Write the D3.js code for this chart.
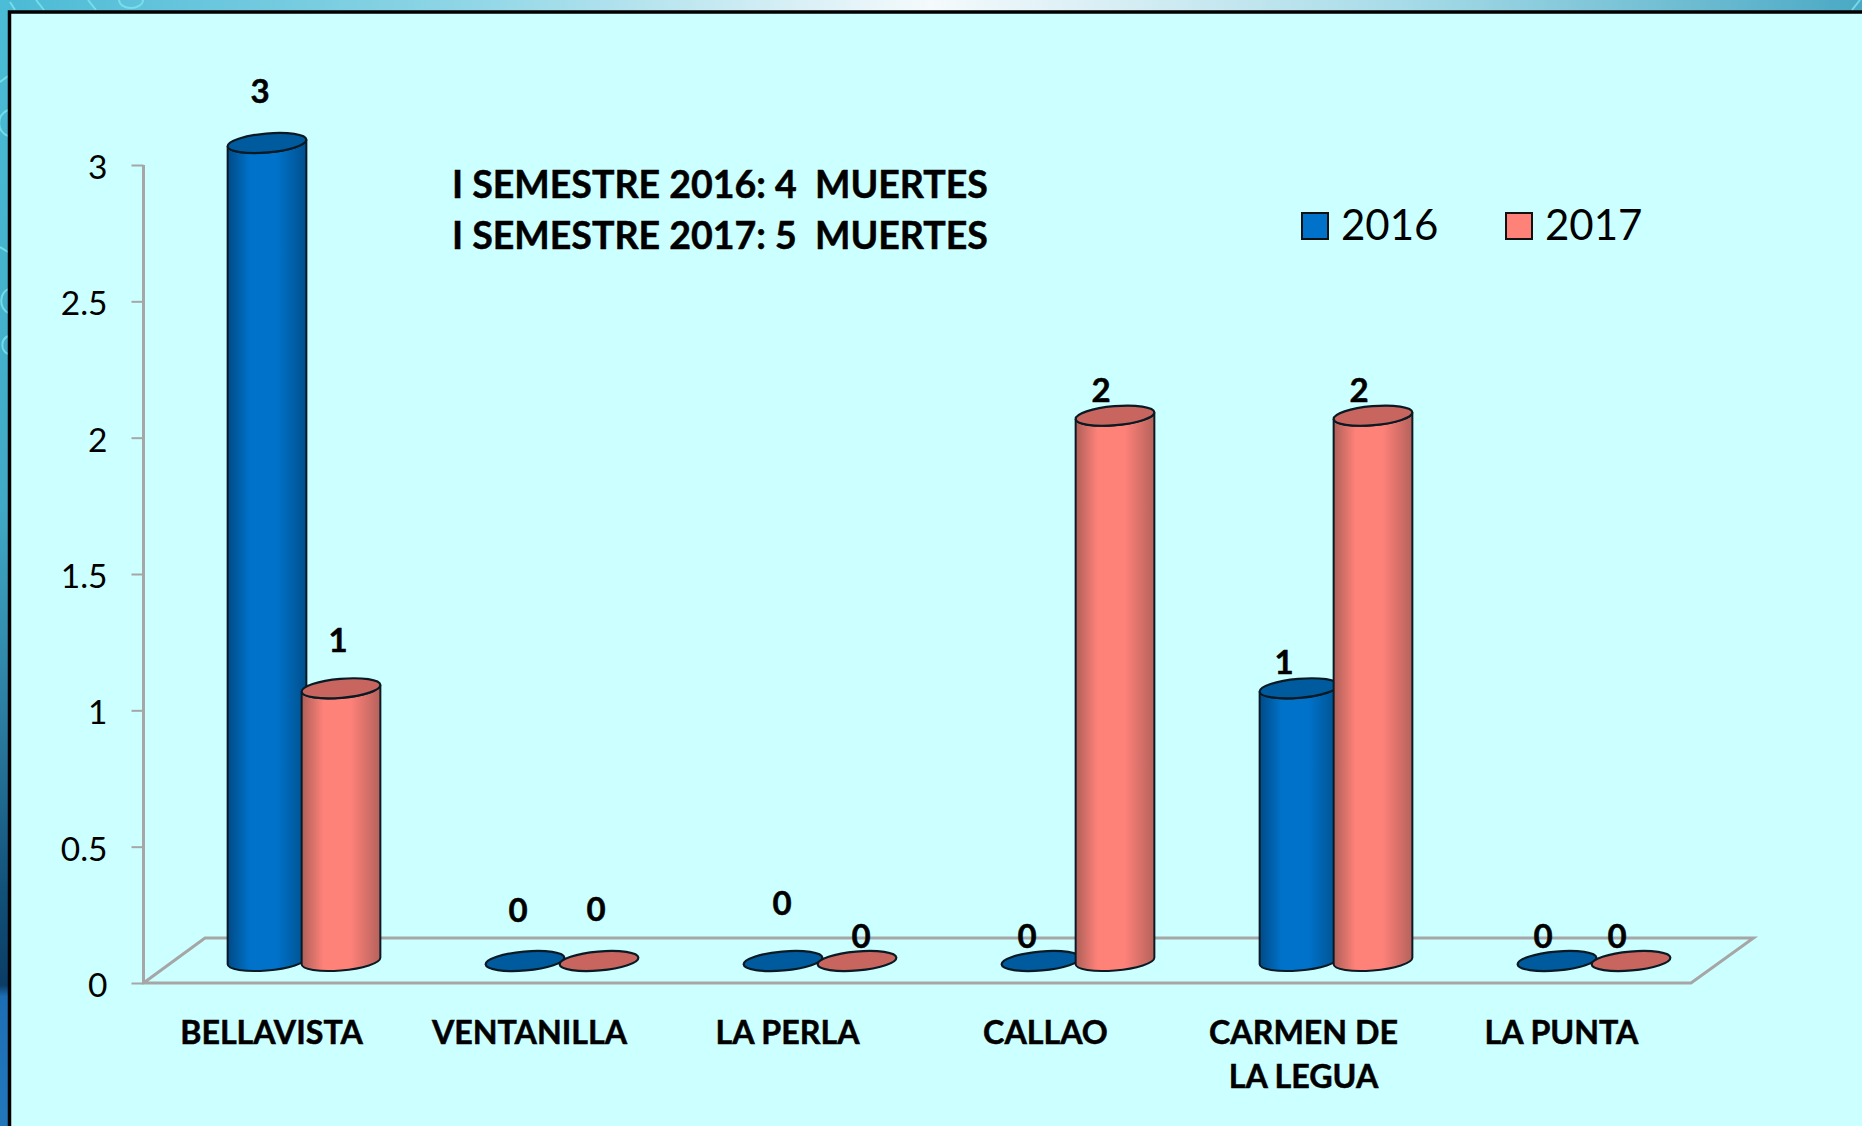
<!DOCTYPE html>
<html><head><meta charset="utf-8">
<script src="https://cdn.jsdelivr.net/npm/d3@7"></script>
<style>html,body{margin:0;padding:0;background:#ccffff}svg{display:block}text{font-family:Lato,"Open Sans",sans-serif;fill:#000}.b{stroke:#000;stroke-width:.5px}</style>
</head><body><svg id="c" width="1862" height="1126"></svg>
<script>
const categories = [["BELLAVISTA"],["VENTANILLA"],["LA PERLA"],["CALLAO"],["CARMEN DE","LA LEGUA"],["LA PUNTA"]];
const seriesNames = ["2016","2017"];
const values2016 = [3,0,0,0,1,0];
const values2017 = [1,0,0,2,2,0];
const yTicks = [0,0.5,1,1.5,2,2.5,3];
const noteLines = ["I SEMESTRE 2016: 4  MUERTES","I SEMESTRE 2017: 5  MUERTES"];
// label placement relative to each cylinder's top
const labelNudge2016 = [[-7,-52],[-7,-51],[-1,-58],[-14,-25],[-15,-26],[-14,-25]];
const labelNudge2017 = [[-3,-48],[-3,-52],[4,-25],[-14,-26],[-14,-26],[-14,-25]];

const W=1862,H=1126;
const svg=d3.select("#c");
const defs=svg.append("defs");
function hGrad(id,edgeL,mid,edgeR){
  const g=defs.append("linearGradient").attr("id",id);
  [[0,edgeL],[.28,mid],[.62,mid],[1,edgeR]].forEach(s=>g.append("stop").attr("offset",s[0]).attr("stop-color",s[1]));
}
hGrad("body0","#004a85","#0072ca","#00508c");
hGrad("body1","#ad5f58","#ff8279","#b5625c");
const topG=defs.append("linearGradient").attr("id","strip");
[[0,"#4bbad5"],[.25,"#8fd6e6"],[.5,"#f5fafc"],[.75,"#a8dce8"],[1,"#4aa9c4"]].forEach(s=>topG.append("stop").attr("offset",s[0]).attr("stop-color",s[1]));
const leftG=defs.append("linearGradient").attr("id","side").attr("x1",0).attr("x2",0).attr("y1",0).attr("y2",1);
[[0,"#4bbdd6"],[.45,"#40a9c6"],[.65,"#2a7a9e"],[.8,"#104f77"],[.875,"#0b3d66"],[.885,"#1d6fb5"],[1,"#2277bb"]].forEach(s=>leftG.append("stop").attr("offset",s[0]).attr("stop-color",s[1]));

// page: outer strips and panel
svg.append("rect").attr("width",W).attr("height",H).attr("fill","#ccffff");
svg.append("rect").attr("width",W).attr("height",11).attr("fill","url(#strip)");
svg.append("rect").attr("width",9).attr("height",H).attr("fill","url(#side)");
// background swirls peeking out of the strips
const swirl=svg.append("g").attr("fill","none").attr("stroke","#7fe6f0").attr("stroke-width",2).attr("opacity",.8);
["M10,2L15,10","M36,0L44,10","M88,0L96,10","M119,0a12,8,0,0,0,24,0","M1860,0L1852,10",
 "M0,82L8,76","M8,110a14,14,0,0,0,0,26","M0,247L8,252","M8,289a14,14,0,0,0,0,24","M8,336a10,10,0,0,0,0,18"]
 .forEach(d=>swirl.append("path").attr("d",d));
svg.append("path").attr("d",`M9.5,${H}V12H${W}`).attr("fill","none").attr("stroke","#000").attr("stroke-width",3.5);

const y=d3.scaleLinear().domain([0,3]).range([983,165]);
const x0=d3.scaleBand().domain(d3.range(categories.length)).range([175,1723]);
const x1=d3.scaleBand().domain([0,1]).range([-74,74]);
const wallX=143.5, depthX=61.5, depthY=45, frontR=1691;
const baseY=y(0);
const lift=22;           // cylinders stand mid-depth on the floor
const rx=39.5, ry=9.5, tilt=-5;

// floor and wall
const grid=svg.append("g").attr("fill","none").attr("stroke","#a6a6a6").attr("stroke-width",3);
grid.append("path").attr("d",`M${wallX},${y(3)}V${baseY}H${frontR}L${frontR+depthX+1},${baseY-depthY}H${wallX+depthX}L${wallX},${baseY}`);
const yAxis=d3.axisLeft(y).tickValues(yTicks).tickSize(12).tickPadding(24).tickFormat(d3.format("~g"));
const ax=svg.append("g").attr("transform",`translate(${wallX},0)`).call(yAxis);
ax.select(".domain").remove();
ax.selectAll("line").attr("stroke","#a6a6a6").attr("stroke-width",2);
ax.selectAll("text").style("font-size","33.5px").attr("dy","0.4em");

// category labels
const catG=svg.append("g").attr("text-anchor","middle").style("font-weight",700).style("font-size","32.2px");
categories.forEach((lines,i)=>lines.forEach((t,j)=>{
  catG.append("text").attr("class","b").attr("x",x0(i)+x0.bandwidth()/2-32.5).attr("y",1043.5+j*44.5).text(t);
}));

// cylinders
const th=tilt*Math.PI/180;
// extreme x points of the tilted ellipse
const t0=Math.atan2(-ry*Math.sin(th),rx*Math.cos(th));
const ex=rx*Math.cos(t0)*Math.cos(th)-ry*Math.sin(t0)*Math.sin(th);
const ey=rx*Math.cos(t0)*Math.sin(th)+ry*Math.sin(t0)*Math.cos(th);
const series=[{v:values2016,n:labelNudge2016,top:"#005a9e"},{v:values2017,n:labelNudge2017,top:"#c8655e"}];
const stroke="#0a1a24";
series.forEach((s,si)=>{
  const g=svg.append("g");
  s.v.forEach((v,i)=>{
    const cx=x0(i)+x0.bandwidth()/2+x1(si)+x1.bandwidth()/2;
    const yb=y(0)-lift, yt=y(v)-lift;
    if(v>0){
      g.append("path")
       .attr("d",`M${cx-ex},${yt-ey}L${cx-ex},${yb-ey}A${rx},${ry},${tilt},0,0,${cx+ex},${yb+ey}L${cx+ex},${yt+ey}A${rx},${ry},${tilt},0,1,${cx-ex},${yt-ey}Z`)
       .attr("fill",`url(#body${si})`).attr("stroke",stroke).attr("stroke-width",2);
    }
    g.append("ellipse").attr("cx",cx).attr("cy",yt).attr("rx",rx).attr("ry",ry)
     .attr("transform",`rotate(${tilt},${cx},${yt})`).attr("fill",s.top).attr("stroke",stroke).attr("stroke-width",2.2);
  });
});
// value labels on top
series.forEach((s,si)=>s.v.forEach((v,i)=>{
  const cx=x0(i)+x0.bandwidth()/2+x1(si)+x1.bandwidth()/2;
  svg.append("text").attr("class","b").attr("x",cx+s.n[i][0]).attr("y",y(v)-lift+s.n[i][1]).attr("dy","0.36em")
    .attr("text-anchor","middle").style("font-weight",700).style("font-size","33px").text(v);
}));

// note
noteLines.forEach((t,i)=>svg.append("text").attr("class","b").attr("x",452).attr("y",198+i*51).style("font-weight",700).style("font-size","37.5px").style("white-space","pre").text(t));

// legend
const lgX=[1301,1505];
seriesNames.forEach((n,i)=>{
  svg.append("rect").attr("x",lgX[i]+1).attr("y",213).attr("width",26).attr("height",26)
    .attr("fill",i?"#ff8279":"#0072ca").attr("stroke","#111").attr("stroke-width",2);
  svg.append("text").attr("x",lgX[i]+40).attr("y",240).style("font-size","42px").text(n);
});
</script></body></html>
